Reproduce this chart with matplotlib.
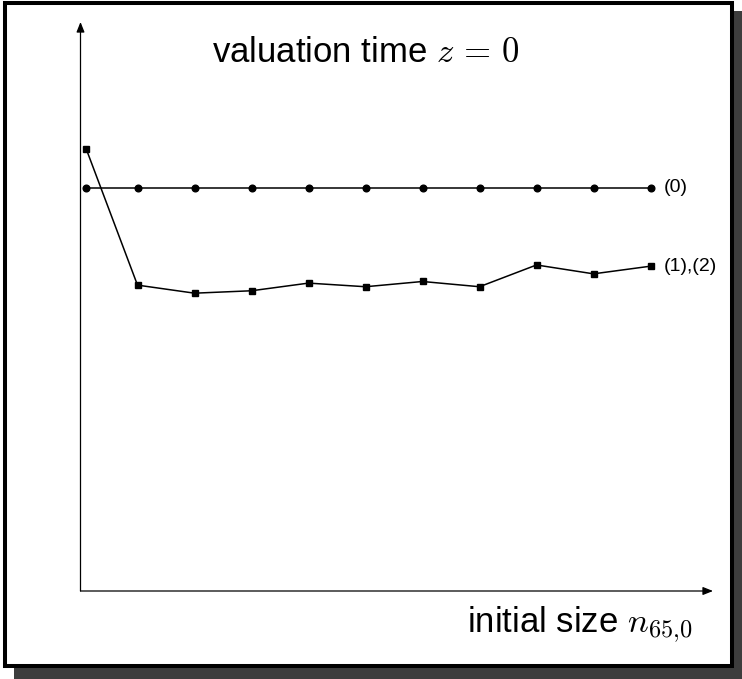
import matplotlib
matplotlib.use("Agg")
import matplotlib.pyplot as plt
from matplotlib.patches import Rectangle
from matplotlib.transforms import Affine2D

plt.rcParams['font.family'] = ['Liberation Sans', 'DejaVu Sans']
plt.rcParams['mathtext.fontset'] = 'cm'

# initial size n_65,0
sizes = [1, 10, 20, 30, 40, 50, 60, 70, 80, 90, 100]
# valuation at z = 0, relative scale
val_0 = [1.0] * 11
val_12 = [1.097, 0.759, 0.739, 0.745, 0.764, 0.755, 0.768, 0.755, 0.809, 0.787, 0.806]

W, H = 742, 679
fig = plt.figure(figsize=(W / 100, H / 100), dpi=100)

# frame with drop shadow, in pixel coords (top-left origin)
px = Affine2D().scale(1 / W, -1 / H).translate(0, 1) + fig.transFigure
fig.patches.append(Rectangle((14, 11), W - 14, H - 11, transform=px,
                             facecolor='#3d3d3d', edgecolor='none', zorder=0))
fig.patches.append(Rectangle((5, 2.5), 726.5, 663, transform=px,
                             facecolor='white', edgecolor='black', lw=2.9, zorder=1))

x0, y0 = 80.5, 591
ax = fig.add_axes([x0 / W, (H - y0) / H, (713 - x0) / W, (y0 - 22) / H])
ax.set_zorder(2)
ax.patch.set_visible(False)
ax.set_xlim(0, (713 - x0) / 5.7)
ax.set_ylim(0, (y0 - 22) / 403)
for s in ax.spines.values():
    s.set_visible(False)
ax.set_xticks([])
ax.set_yticks([])

ax.annotate('', xy=(1, 0), xytext=(0, 0), xycoords='axes fraction',
            arrowprops=dict(arrowstyle='-|>,head_length=0.5,head_width=0.2', lw=0.9,
                            color='black', mutation_scale=12, shrinkA=0, shrinkB=0))
ax.annotate('', xy=(0, 1), xytext=(0, 0), xycoords='axes fraction',
            arrowprops=dict(arrowstyle='-|>,head_length=0.5,head_width=0.2', lw=0.9,
                            color='black', mutation_scale=12, shrinkA=0, shrinkB=0))

ax.plot(sizes, val_0, color='black', lw=1.1, marker='o', ms=4.8)
ax.plot(sizes, val_12, color='black', lw=1.1, marker='s', ms=4.5)

ax.text(sizes[-1] + 2.4, val_0[-1], '(0)', fontsize=14, va='center', ha='left')
ax.text(sizes[-1] + 2.4, val_12[-1], '(1),(2)', fontsize=14, va='center', ha='left')

fig.text(366 / W, 1 - 62 / H, r'valuation time $z\,=\,0$', fontsize=25,
         ha='center', va='baseline')
fig.text(692 / W, 1 - 632 / H, r'initial size $n_{65{,}0}$', fontsize=25,
         ha='right', va='baseline')

fig.savefig('out.png', dpi=100)
